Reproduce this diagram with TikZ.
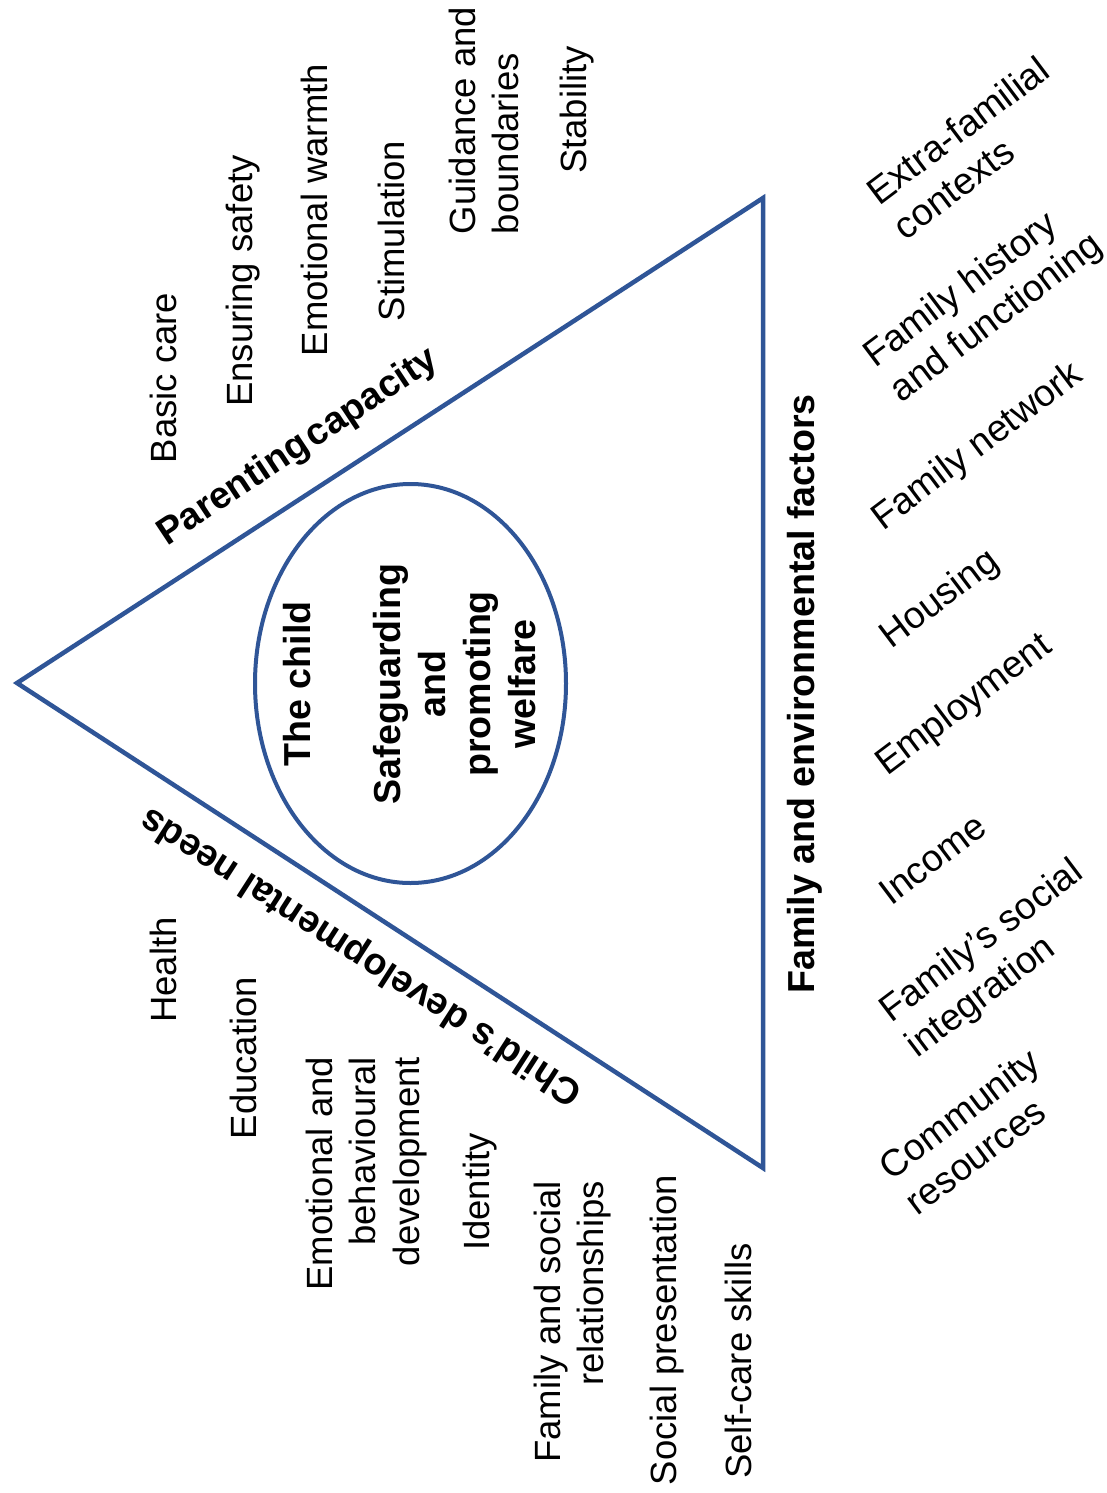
\documentclass[tikz,border=0pt]{standalone}
\usepackage{fontspec}
\setmainfont{Liberation Sans}
\usetikzlibrary{shapes.geometric}
\definecolor{frameblue}{RGB}{47,85,151}
\begin{document}
\begin{tikzpicture}[x=1pt,y=-1pt,
  every node/.style={inner sep=0pt, outer sep=0pt, text=black},
  item/.style={font=\fontsize{36.5}{43.8}\selectfont},
  fitem/.style={font=\fontsize{37.5}{44}\selectfont},
  head/.style={font=\fontsize{37.6}{45}\selectfont\bfseries},
  up/.style={rotate=90, anchor=base},
  slant/.style={rotate=37, anchor=base west},
  frame/.style={draw=frameblue, line width=4.5pt, line join=miter},
  ring/.style={draw=frameblue, line width=4pt, ellipse,
    minimum width=311pt, minimum height=399pt}
]
\useasboundingbox (0,0) rectangle (1107,1493);
\fill[white] (0,0) rectangle (1107,1493);

% triangle
\coordinate (apex) at (17,683);
\coordinate (topc) at (763,198);
\coordinate (botc) at (763,1168);
\draw[frame] (apex) -- (topc) -- (botc) -- cycle;

% central ellipse
\node[ring] (ring) at (410.5,683.5) {};
\node[head, rotate=90, align=center] (child) at (410,684)
  {The child\\[45pt]Safeguarding\\and\\promoting\\welfare};

% side headings
\node[head, rotate=33.5, anchor=base west] (pc) at (167,546) {Parenting\hspace{0.1em}capacity};
\node[head, rotate=147.2, anchor=base west] (cd) at (584,1087) {Child’s developmental needs};
\node[head, up] (fe) at (814,694) {Family and environmental factors};

% parenting capacity items
\node[item, up] (bc) at (176,378) {Basic care};
\node[item, up] (es) at (252,281) {Ensuring safety};
\node[item, up] (ew) at (327,210) {Emotional warmth};
\node[item, up] (st) at (404,231) {Stimulation};
\node[item, rotate=90, anchor=base west] (gb) at (475,234)
  {\begin{tabular}[t]{@{}l@{}}Guidance and\\boundaries\end{tabular}};
\node[item, up] (sb) at (586,110) {Stability};

% child's developmental needs items
\node[item, up] (he) at (176,970) {Health};
\node[item, up] (ed) at (256,1058) {Education};
\node[item, rotate=90, anchor=base east] (eb) at (332,1057)
  {\begin{tabular}[t]{@{}r@{}}Emotional and\\behavioural\\development\end{tabular}};
\node[item, up] (id) at (489,1192) {Identity};
\node[item, rotate=90, anchor=base east] (fs) at (560,1181)
  {\begin{tabular}[t]{@{}r@{}}Family and social\\relationships\end{tabular}};
\node[item, up] (sp) at (676,1330) {Social presentation};
\node[item, up] (sc) at (751,1361) {Self-care skills};

% family and environmental factors items
\node[fitem, slant] (ef) at (879,206)
  {\begin{tabular}[t]{@{}l@{}}Extra-familial\\contexts\end{tabular}};
\node[fitem, slant] (fh) at (875,368)
  {\begin{tabular}[t]{@{}l@{}}Family history\\and functioning\end{tabular}};
\node[fitem, slant] (fn) at (883,531) {Family network};
\node[fitem, slant] (ho) at (891,649) {Housing};
\node[fitem, slant] (em) at (887,776) {Employment};
\node[fitem, slant] (in) at (891,906) {Income};
\node[fitem, slant] (fi) at (891,1023)
  {\begin{tabular}[t]{@{}l@{}}Family’s social\\integration\end{tabular}};
\node[fitem, slant] (cr) at (891,1181)
  {\begin{tabular}[t]{@{}l@{}}Community\\resources\end{tabular}};
\end{tikzpicture}
\end{document}
